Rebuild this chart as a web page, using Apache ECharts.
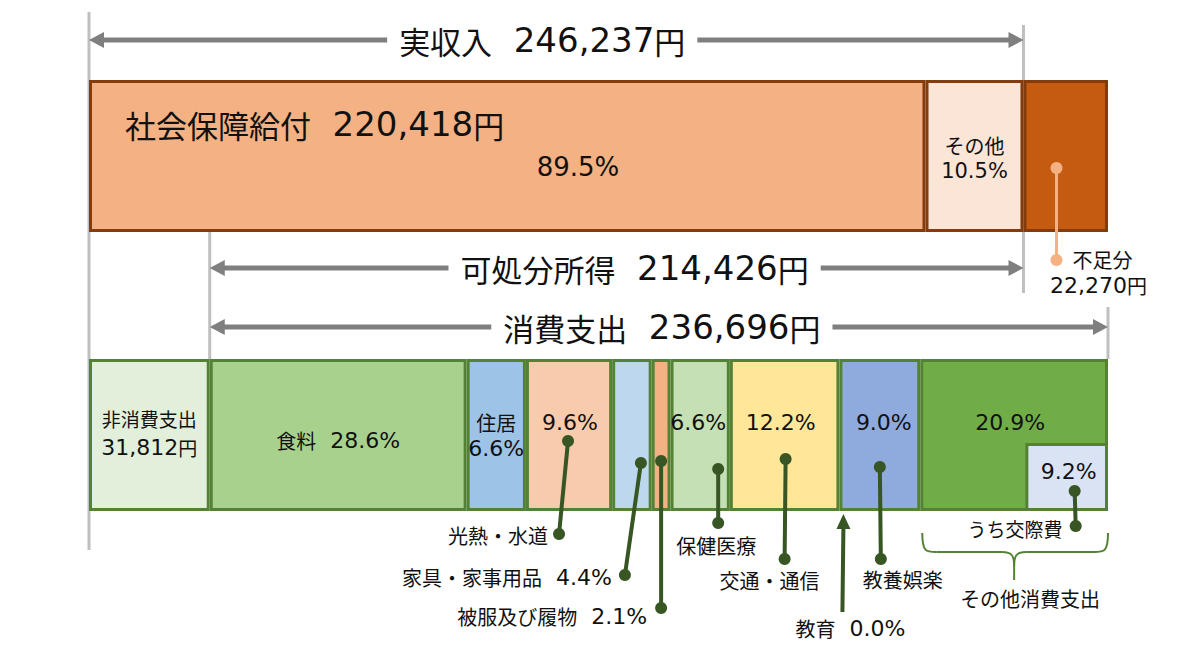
<!DOCTYPE html>
<html><head><meta charset="utf-8">
<script src="https://cdn.jsdelivr.net/npm/echarts@6/dist/echarts.min.js"></script>
<style>html,body{margin:0;padding:0;background:#fff}#c{width:1200px;height:664px}</style>
</head><body><div id="c"></div>
<script>
// ---- data ----
const rows = ['収入', '支出'];
const incomeLabels = ['社会保障給付', 'その他', '不足分'];
const incomeValues = [220418, 25819, 22270];
const incomePct = [89.5, 10.5];
const realIncome = 246237;
const disposableIncome = 214426;
const nonConsumption = 31812;
const consumption = 236696;
const consumptionLabels = ['食料', '住居', '光熱・水道', '家具・家事用品', '被服及び履物', '保健医療', '交通・通信', '教育', '教養娯楽', 'その他消費支出'];
const consumptionPct = [28.6, 6.6, 9.6, 4.4, 2.1, 6.6, 12.2, 0.0, 9.0, 20.9];
const socialExpLabel = 'うち交際費';
const socialExpPct = 9.2;

// ---- styles ----
const CJK = '"Noto Sans CJK JP", sans-serif';
const LAT = '"DejaVu Sans", "Noto Sans CJK JP", sans-serif';
const incomeColors = ['#f4b183', '#fbe5d6', '#c55a11'];
const nonConsColor = '#e2efda';
const consColors = ['#a9d18e', '#9dc3e6', '#f8cbad', '#bdd7ee', '#f4b183', '#c5e0b4', '#ffe699', '#d9d9d9', '#8faadc', '#70ad47'];
const topBorder = '#843c0c', botBorder = '#548235';
const BAR_H = 152, SUB_H = 68;

const fmt = n => n.toLocaleString('en-US');
const chart = echarts.init(document.getElementById('c'), null, { renderer: 'svg' });
const totalBottom = nonConsumption + consumption;
const subValue = consumption * socialExpPct / 100;

const series = [];
incomeValues.forEach((v, i) => {
  series.push({
    type: 'bar', name: incomeLabels[i], stack: 'all', barWidth: BAR_H,
    data: [v, null],
    itemStyle: { color: incomeColors[i], borderColor: topBorder, borderWidth: 3 }
  });
});
series.push({
  type: 'bar', name: '非消費支出', stack: 'all', barWidth: BAR_H,
  data: [null, nonConsumption],
  itemStyle: { color: nonConsColor, borderColor: botBorder, borderWidth: 3 }
});
consumptionPct.forEach((p, i) => {
  series.push({
    type: 'bar', name: consumptionLabels[i], stack: 'all', barWidth: BAR_H,
    data: [null, consumption * p / 100],
    itemStyle: { color: consColors[i], borderColor: botBorder, borderWidth: p === 0 ? 0 : 3 }
  });
});
// うち交際費: second grid, shifted so the sub bar sits on the bottom edge of the main bar
series.push({
  type: 'bar', name: 'base', stack: 'sub', xAxisIndex: 1, yAxisIndex: 1, barWidth: SUB_H,
  data: [null, totalBottom - subValue], itemStyle: { color: 'transparent', borderWidth: 0 }, silent: true
});
series.push({
  type: 'bar', name: socialExpLabel, stack: 'sub', xAxisIndex: 1, yAxisIndex: 1, barWidth: SUB_H,
  data: [null, subValue], itemStyle: { color: '#dae3f3', borderColor: botBorder, borderWidth: 3 }
});

const GRID_TOP = 16.5, GRID_H = 558;
chart.setOption({
  animation: false,
  grid: [
    { left: 89, right: 92, top: GRID_TOP, height: GRID_H },
    { left: 89, right: 92, top: GRID_TOP + (BAR_H - SUB_H) / 2, height: GRID_H }
  ],
  xAxis: [
    { type: 'value', min: 0, max: totalBottom, show: false, gridIndex: 0 },
    { type: 'value', min: 0, max: totalBottom, show: false, gridIndex: 1 }
  ],
  yAxis: [
    { type: 'category', data: rows, inverse: true, show: false, gridIndex: 0 },
    { type: 'category', data: rows, inverse: true, show: false, gridIndex: 1 }
  ],
  series
});

// ---- annotations, positioned through the axes ----
const X = v => chart.convertToPixel({ xAxisIndex: 0 }, v);
const Y = r => chart.convertToPixel({ yAxisIndex: 0 }, r);
const topC = Y(rows[0]), botC = Y(rows[1]);
const tT = topC - BAR_H / 2, tB = topC + BAR_H / 2, bT = botC - BAR_H / 2, bB = botC + BAR_H / 2;

const G = [];
const GRAY = '#bfbfbf', ARW = '#7f7f7f', LEAD = '#375623', TXT = '#111';
function line(x1, y1, x2, y2, c, w, z) { G.push({ type: 'line', shape: { x1, y1, x2, y2 }, style: { stroke: c, lineWidth: w }, z: z == null ? 10 : z }); }
function dot(x, y, c, r) { G.push({ type: 'circle', shape: { cx: x, cy: y, r: r || 6 }, style: { fill: c }, z: 11 }); }
function isWide(ch) { return ch.charCodeAt(0) >= 0x2E80; }
function text(x, y, t, cs, align, extra, ds, lh) {
  ds = ds || Math.round(cs * 1.1);
  lh = lh || Math.max(cs, ds);
  const lines = t.split('\n').map(ln => {
    let out = '', run = '', wide = null;
    const flush = () => { if (run) out += '{' + (wide ? 'c' : 'd') + '|' + run + '}'; run = ''; };
    for (const ch of ln) { const w = isWide(ch); if (wide !== null && w !== wide) flush(); wide = w; run += ch; }
    flush();
    return out;
  });
  G.push({ type: 'text', z: 12, style: Object.assign({
    text: lines.join('\n'), x, y, fill: TXT, align: align || 'center', verticalAlign: 'middle',
    rich: {
      c: { fontSize: cs, fontFamily: CJK, fill: TXT, lineHeight: lh },
      d: { fontSize: ds, fontFamily: LAT, fill: TXT, lineHeight: lh }
    }
  }, extra || {}) });
}
function head(x, y, dir, c) {
  G.push({ type: 'polygon', z: 11, shape: { points: [[x, y], [x - dir * 15, y - 8], [x - dir * 15, y + 8]] }, style: { fill: c } });
}
function dimArrow(x1, x2, y, label, dx) {
  line(x1 + 8, y, x2 - 8, y, ARW, 5);
  head(x1, y, -1, ARW); head(x2, y, 1, ARW);
  text((x1 + x2) / 2 + dx, y, label, 31, 'center', { backgroundColor: '#fff', padding: [0, 12] }, 34);
}
function leader(x1, y1, x2, y2) { line(x1, y1, x2, y2, LEAD, 4); dot(x1, y1, LEAD); dot(x2, y2, LEAD); }

// guide lines (behind the bars)
const x0 = X(0), xNon = X(nonConsumption), xReal = X(realIncome), xEnd = X(totalBottom);
line(x0, 12, x0, 550, GRAY, 3, 0);
line(xNon, tB, xNon, bT, GRAY, 3, 0);
line(xReal, 25, xReal, 293, GRAY, 3, 0);
line(xEnd, 307, xEnd, bT, GRAY, 3, 0);

// dimension arrows
dimArrow(x0, xReal, 40, '実収入  ' + fmt(realIncome) + '円', -14);
dimArrow(xNon, xReal, 268, '可処分所得  ' + fmt(disposableIncome) + '円', 18);
dimArrow(xNon, xEnd, 327, '消費支出  ' + fmt(consumption) + '円', 3);

// top bar labels
const xSoc = X(incomeValues[0]);
text(x0 + 36, topC - 32, incomeLabels[0] + '  ' + fmt(incomeValues[0]) + '円', 31, 'left', null, 34);
text(x0 + 489, topC + 11, incomePct[0].toFixed(1) + '%', 24, 'center', null, 26);
text((xSoc + xReal) / 2, topC + 2, incomeLabels[1] + '\n' + incomePct[1].toFixed(1) + '%', 20, 'center', null, 21, 26);
// shortage leader
const xs = xReal + 33;
line(xs, topC + 12, xs, 260, '#f4b183', 3);
dot(xs, topC + 12, '#f4b183'); dot(xs, 260, '#f4b183');
text(xs + 16, 259, incomeLabels[2], 20, 'left', null, 22, 22);
text(xs + 42, 285, fmt(incomeValues[2]) + '円', 20, 'center', null, 22, 22);

// bottom bar labels
const segs = []; let cum = nonConsumption;
consumptionPct.forEach(p => { const v = consumption * p / 100; segs.push([X(cum), X(cum + v)]); cum += v; });
const mx = i => (segs[i][0] + segs[i][1]) / 2;
const pct = i => consumptionPct[i].toFixed(1) + '%';

text((x0 + xNon) / 2, botC - 2, '非消費支出\n' + fmt(nonConsumption) + '円', 19, 'center', null, 22, 29);
text(mx(0), botC + 5, consumptionLabels[0] + '  ' + pct(0), 20, 'center', null, 22);
text(mx(1), botC, consumptionLabels[1] + '\n' + pct(1), 20, 'center', null, 22, 26);
// 光熱・水道
text(mx(2) + 1, botC - 13, pct(2), 20, 'center', null, 22);
leader(mx(2) - 1, botC + 6, mx(2) - 10, 534);
text(mx(2) - 21, 535, consumptionLabels[2], 20, 'right');
// 家具・家事用品
leader(mx(3) + 9, botC + 28, mx(3) - 7, 575);
text(mx(3) - 20, 577, consumptionLabels[3] + '  ' + pct(3), 20, 'right', null, 22);
// 被服及び履物
leader(mx(4), botC + 26, mx(4), 608);
text(mx(4) - 14, 616, consumptionLabels[4] + '  ' + pct(4), 20, 'right', null, 22);
// 保健医療
text(mx(5) - 2, botC - 13, pct(5), 20, 'center', null, 22);
leader(mx(5) + 18, botC + 34, mx(5) + 18, 523);
text(mx(5) + 16, 545, consumptionLabels[5], 20);
// 交通・通信
text(mx(6) - 4, botC - 13, pct(6), 20, 'center', null, 22);
leader(mx(6) + 1, botC + 24, mx(6), 559);
text(mx(6) - 15, 580, consumptionLabels[6], 20);
// 教育 (arrow up)
const xe = segs[7][0] + 3;
line(xe, 612, xe + 1, bB + 16, LEAD, 4);
G.push({ type: 'polygon', z: 11, shape: { points: [[xe + 1, bB + 3], [xe - 6, bB + 18], [xe + 8, bB + 18]] }, style: { fill: LEAD } });
text(xe + 8, 628, consumptionLabels[7] + '  ' + pct(7), 20, 'center', null, 22);
// 教養娯楽
text(mx(8) + 4, botC - 13, pct(8), 20, 'center', null, 22);
leader(mx(8), botC + 32, mx(8) + 1, 559);
text(mx(8) + 23, 579, consumptionLabels[8], 20);
// その他消費支出
text(mx(9) - 4, botC - 13, pct(9), 20, 'center', null, 22);
const xSub0 = X(totalBottom - subValue);
const boxC = (xSub0 + xEnd) / 2;
text(boxC + 2, botC + 36, socialExpPct.toFixed(1) + '%', 20, 'center', null, 22);
leader(boxC + 8, botC + 56, boxC + 9, 526);
text(mx(9) + 1, 528, socialExpLabel, 19);
// brace
const bl = segs[9][0] + 2, br = xEnd, bm = mx(9), by0 = 533, by1 = 552, byt = 580;
const BR = '#548235';
const bz = (x1, y1, c1x, c1y, c2x, c2y, x2, y2) => G.push({ type: 'bezierCurve', z: 10, shape: { x1, y1, cpx1: c1x, cpy1: c1y, cpx2: c2x, cpy2: c2y, x2, y2 }, style: { stroke: BR, lineWidth: 2, fill: 'none' } });
bz(bl, by0, bl, by1, bl + 4, by1, bl + 14, by1);
line(bl + 14, by1, bm - 12, by1, BR, 2);
bz(bm - 12, by1, bm - 2, by1, bm, by1 + 4, bm, by1 + 14);
bz(bm + 12, by1, bm + 2, by1, bm, by1 + 4, bm, by1 + 14);
line(bm, by1 + 14, bm, byt, BR, 2);
line(bm + 12, by1, br - 14, by1, BR, 2);
bz(br, by0, br, by1, br - 4, by1, br - 14, by1);
text(mx(9) + 16, 598, consumptionLabels[9], 20);

chart.setOption({ graphic: { elements: G } });
</script>
</body></html>
